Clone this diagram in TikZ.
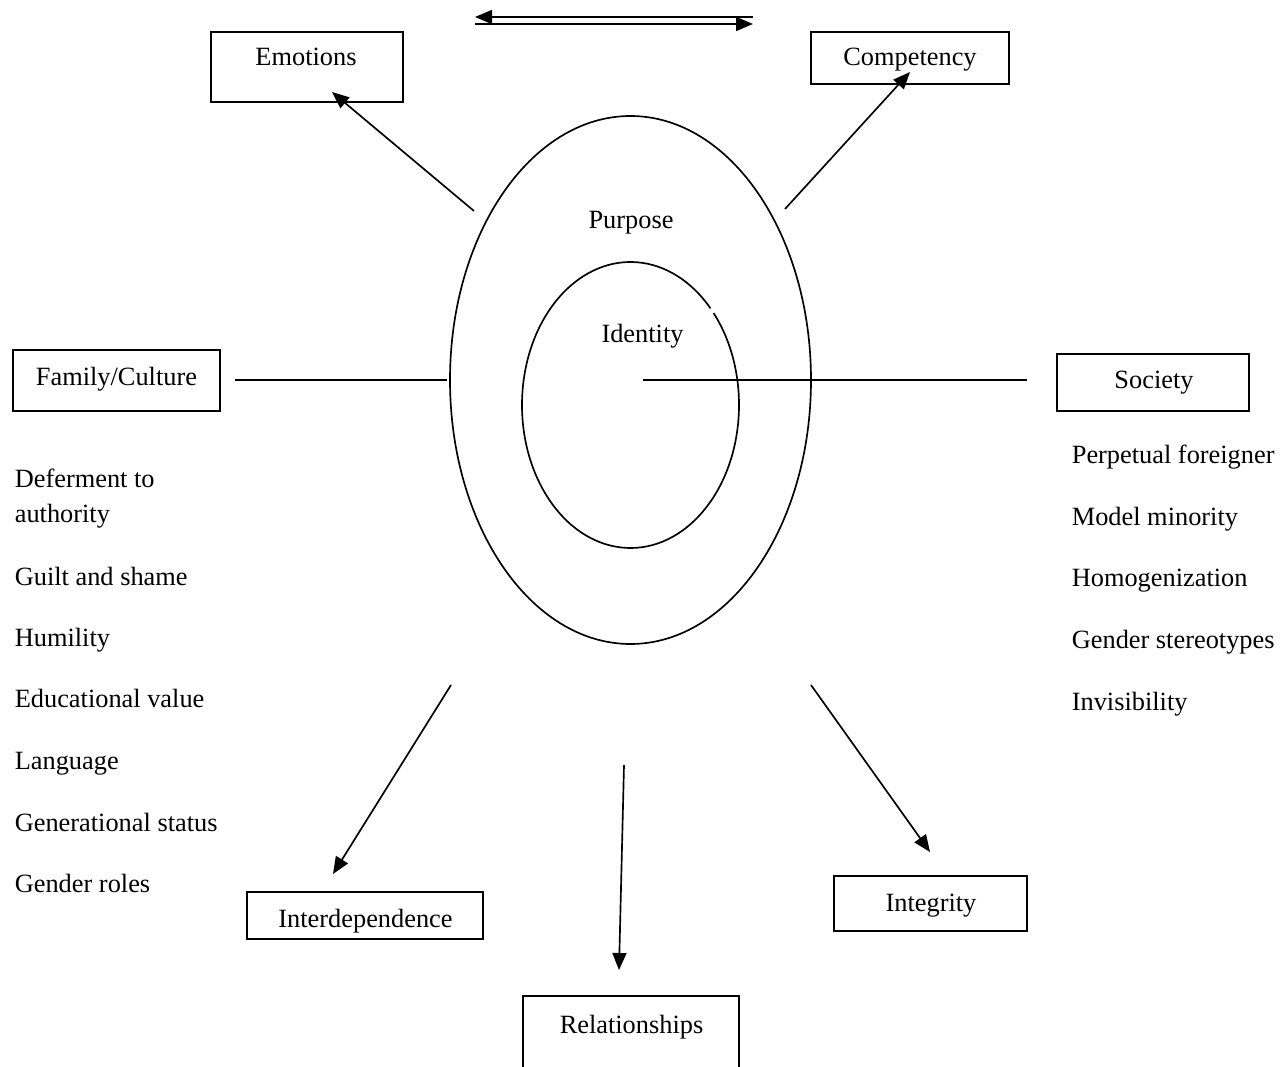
\documentclass[tikz,border=0pt]{standalone}
\usepackage{fontspec}
\setmainfont{Liberation Serif}
\usetikzlibrary{arrows.meta}

\begin{document}
\begin{tikzpicture}[x=0.02cm, y=-0.02cm, line width=0.95pt,
  box/.style={draw, inner sep=0pt},
  txt/.style={font=\fontsize{15}{18}\selectfont, inner sep=0pt, anchor=base},
  item/.style={txt, anchor=base west},
  arr/.style={-{Triangle[length=0.34cm, width=0.28cm]}}]
\useasboundingbox (0,0) rectangle (1288,1067);
\clip (0,0) rectangle (1288,1067);
\draw (630.5,380) ellipse [x radius=180.5, y radius=264];
\draw ([shift={(-40:108.5 and 143)}]630.5,405) arc [start angle=-40, end angle=317.5, x radius=108.5, y radius=143];
\node[txt] (purpose) at (631,229) {Purpose};
\node[txt] (identity) at (642.5,343) {Identity};
\node[box, minimum width=3.84cm, minimum height=1.40cm] (emotions) at (307,67) {};
\node[txt] (emotionstxt) at (306,66) {Emotions};
\node[box, minimum width=3.96cm, minimum height=1.04cm] (competency) at (910,58) {};
\node[txt] (competencytxt) at (910,66) {Competency};
\node[box, minimum width=4.14cm, minimum height=1.22cm] (family) at (116.5,380.5) {};
\node[txt] (familytxt) at (116.5,386) {Family/Culture};
\node[box, minimum width=3.84cm, minimum height=1.14cm] (society) at (1153,382.5) {};
\node[txt] (societytxt) at (1154,389) {Society};
\node[box, minimum width=4.72cm, minimum height=0.94cm] (interdependence) at (365,915.5) {};
\node[txt] (interdependencetxt) at (365.5,927) {Interdependence};
\node[box, minimum width=3.86cm, minimum height=1.10cm] (integrity) at (930.5,903.5) {};
\node[txt] (integritytxt) at (931,911) {Integrity};
\node[box, minimum width=4.32cm, minimum height=1.80cm] (relationships) at (631,1041) {};
\node[txt] (relationshipstxt) at (631.5,1033) {Relationships};
\node[item] (deferment) at (14,487) {Deferment to};
\node[item] (authority) at (14,522) {authority};
\node[item] (guilt) at (14,585) {Guilt and shame};
\node[item] (humility) at (14,646) {Humility};
\node[item] (education) at (14,707) {Educational value};
\node[item] (language) at (14,769) {Language};
\node[item] (generation) at (14,831) {Generational status};
\node[item] (gender) at (14,892) {Gender roles};
\node[item] (foreigner) at (1071,463) {Perpetual foreigner};
\node[item] (minority) at (1071,525) {Model minority};
\node[item] (homogen) at (1071,586) {Homogenization};
\node[item] (stereotypes) at (1071,648) {Gender stereotypes};
\node[item] (invisibility) at (1071,710) {Invisibility};
\coordinate (topleft) at (475,17);
\coordinate (topright) at (753,17);
\coordinate (lowleft) at (475,24);
\coordinate (lowright) at (753,24);
\draw[arr] (topright) -- (topleft);
\draw[arr] (lowleft) -- (lowright);
\coordinate (emofrom) at (474,211);
\coordinate (emoto) at (332,92);
\coordinate (compfrom) at (785,209);
\coordinate (compto) at (910,72);
\coordinate (famfrom) at (235,380);
\coordinate (famto) at (447,380);
\coordinate (socfrom) at (643,380);
\coordinate (socto) at (1027,380);
\coordinate (intfrom) at (451,685);
\coordinate (intto) at (333,874);
\coordinate (relfrom) at (624,765);
\coordinate (relto) at (619,970);
\coordinate (integfrom) at (811,685);
\coordinate (integto) at (930,852);
\draw[arr] (emofrom) -- (emoto);
\draw[arr] (compfrom) -- (compto);
\draw (famfrom) -- (famto);
\draw (socfrom) -- (socto);
\draw[arr] (intfrom) -- (intto);
\draw[arr] (relfrom) -- (relto);
\draw[arr] (integfrom) -- (integto);
\end{tikzpicture}
\end{document}
